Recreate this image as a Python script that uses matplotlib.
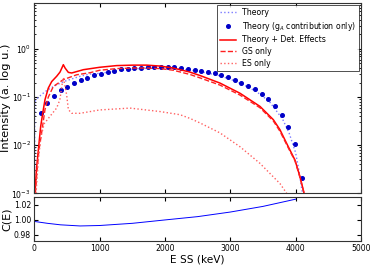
"""
Beta spectrum: theory vs detector-effects, with correction factor panel
"""

import numpy as np
import matplotlib
matplotlib.use('Agg')
import matplotlib.pyplot as plt

# ---- data (keV, arbitrary log units) ----
theory_e = [0, 5, 50, 100, 150, 200, 300, 450, 700, 850, 1000, 1200, 1400, 1600,
            1800, 2000, 2200, 2400, 2600, 2800, 3000, 3200, 3400, 3600, 3800,
            3900, 4000, 4050, 4100, 4120]
theory_i = [0, 0.08, 0.095, 0.11, 0.125, 0.14, 0.168, 0.21, 0.27, 0.30, 0.31,
            0.34, 0.37, 0.39, 0.40, 0.40, 0.385, 0.36, 0.325, 0.285, 0.235,
            0.18, 0.13, 0.08, 0.035, 0.018, 0.007, 0.003, 0.0011, 0]

ga_e = [96, 198, 300, 403, 505, 608, 710, 813, 915, 1018, 1120, 1223, 1325,
        1428, 1530, 1633, 1735, 1838, 1940, 2043, 2145, 2248, 2350, 2453,
        2555, 2658, 2760, 2863, 2965, 3068, 3170, 3273, 3375, 3478, 3580,
        3683, 3785, 3888, 3990, 4093]
ga_i = [0.046, 0.077, 0.107, 0.138, 0.164, 0.196, 0.226, 0.253, 0.283, 0.306,
        0.332, 0.354, 0.377, 0.389, 0.402, 0.408, 0.415, 0.422, 0.422, 0.42,
        0.412, 0.40, 0.386, 0.368, 0.352, 0.332, 0.311, 0.287, 0.257, 0.230,
        0.196, 0.172, 0.147, 0.117, 0.091, 0.064, 0.042, 0.0244, 0.0105, 0.0021]

det_e = [10, 30, 60, 96, 127, 162, 213, 265, 341, 392, 420, 443, 470, 520, 571,
         750, 1000, 1260, 1515, 1720, 1924, 2128, 2380, 2536, 2842, 3148, 3454,
         3658, 3760, 3888, 3991, 4068, 4130]
det_i = [0.001, 0.003, 0.0079, 0.0245, 0.046, 0.088, 0.154, 0.21, 0.27, 0.33,
         0.40, 0.47, 0.40, 0.325, 0.316, 0.37, 0.415, 0.45, 0.46, 0.46, 0.44,
         0.40, 0.33, 0.28, 0.195, 0.12, 0.064, 0.034, 0.021, 0.0093, 0.0049,
         0.0022, 0.001]

gs_e = [15, 40, 70, 110, 162, 213, 290, 443, 647, 851, 1000, 1260, 1515, 1720,
        1924, 2128, 2380, 2536, 2842, 3148, 3454, 3658, 3760, 3888, 3991, 4068,
        4130]
gs_i = [0.001, 0.003, 0.008, 0.018, 0.055, 0.10, 0.166, 0.23, 0.29, 0.32,
        0.36, 0.39, 0.40, 0.40, 0.39, 0.36, 0.295, 0.25, 0.177, 0.11, 0.06,
        0.032, 0.0195, 0.0088, 0.0047, 0.0021, 0.001]

es_e = [25, 60, 100, 150, 240, 340, 390, 420, 443, 465, 494, 520, 571, 700,
        1000, 1464, 1923, 2230, 2383, 2536, 2842, 3148, 3454, 3760, 3864]
es_i = [0.001, 0.005, 0.015, 0.028, 0.04, 0.059, 0.088, 0.17, 0.25, 0.18,
        0.11, 0.055, 0.046, 0.046, 0.054, 0.059, 0.050, 0.043, 0.036, 0.029,
        0.018, 0.0093, 0.0042, 0.0016, 0.001]

corr_e = [0, 200, 400, 700, 1000, 1500, 2000, 2500, 3000, 3500, 4000]
corr_c = [0.998, 0.9955, 0.9935, 0.992, 0.9926, 0.9955, 1.000, 1.0044,
          1.0105, 1.018, 1.0276]

# ---- style ----
plt.rcParams['font.family'] = 'DejaVu Sans'
plt.rcParams['xtick.direction'] = 'in'
plt.rcParams['ytick.direction'] = 'in'
plt.rcParams['xtick.top'] = True
plt.rcParams['ytick.right'] = True
plt.rcParams['xtick.major.size'] = 3
plt.rcParams['ytick.major.size'] = 3
plt.rcParams['xtick.minor.size'] = 1.5
plt.rcParams['ytick.minor.size'] = 1.5
plt.rcParams['axes.linewidth'] = 0.8
plt.rcParams['axes.edgecolor'] = '#333333'

fig = plt.figure(figsize=(3.74, 2.66), dpi=100)
ax = fig.add_axes([0.092, 0.273, 0.873, 0.716])
ax2 = fig.add_axes([0.092, 0.094, 0.873, 0.164])

ax.plot(theory_e, theory_i, ':', color='#7a7aff', lw=1.0, label='Theory')
ax.plot(ga_e, ga_i, 'o', color='#0000c8', ms=2.6, mec='#0000c8',
        label='Theory (g$_A$ contribution only)')
ax.plot(det_e, det_i, '-', color='red', lw=1.1, label='Theory + Det. Effects')
ax.plot(gs_e, gs_i, '--', color='#ff2020', lw=1.0, label='GS only')
ax.plot(es_e, es_i, ':', color='#ff6060', lw=1.0, label='ES only')

ax.set_yscale('log')
ax.set_ylim(1e-3, 9)
ax.set_xlim(0, 5000)
ax.set_xticks([0, 1000, 2000, 3000, 4000, 5000])
ax.tick_params(labelbottom=False, labelsize=5.6, pad=2.5)
ax.set_ylabel('Intensity (a. log u.)', fontsize=8.2)
ax.yaxis.set_label_coords(-0.071, 0.5)

leg = ax.legend(loc='upper right', fontsize=5.6, numpoints=1, fancybox=False,
                borderaxespad=0.25, handlelength=2.0, labelspacing=0.35)
leg.get_frame().set_edgecolor('black')
leg.get_frame().set_linewidth(0.6)

ax2.plot(corr_e, corr_c, '-', color='blue', lw=0.7)
ax2.set_xlim(0, 5000)
ax2.set_ylim(0.972, 1.03)
ax2.set_yticks([0.98, 1.00, 1.02])
ax2.set_xticks([0, 1000, 2000, 3000, 4000, 5000])
ax2.tick_params(labelsize=5.6, pad=2.5)
ax2.set_xlabel('E SS (keV)', fontsize=7.6, labelpad=1)
ax2.set_ylabel('C(E)', fontsize=8)
ax2.yaxis.set_label_coords(-0.068, 0.5)

fig.savefig('out.png', dpi=100, facecolor='white')
